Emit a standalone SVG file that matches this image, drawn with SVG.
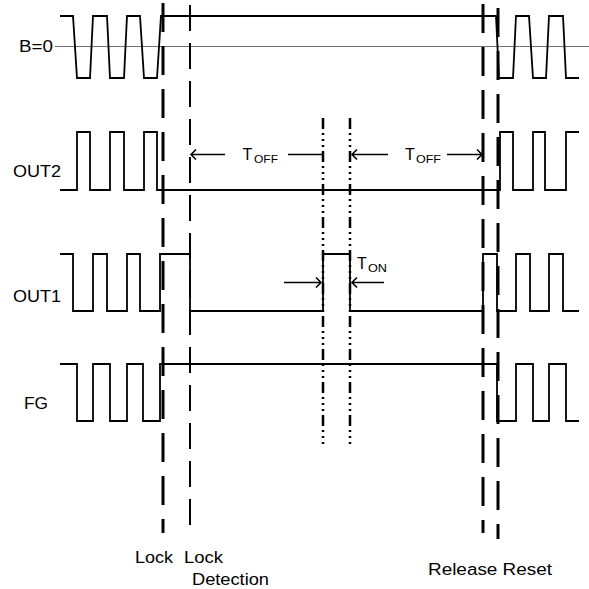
<svg xmlns="http://www.w3.org/2000/svg" width="589" height="589" viewBox="0 0 589 589">
<style>
.wave{fill:none;stroke:#000;stroke-width:1.8;stroke-linejoin:miter}
.ref{stroke:#707070;stroke-width:1.2}
.lk{fill:none;stroke:#000;stroke-width:3;stroke-dasharray:29 14}
.ld{fill:none;stroke:#000;stroke-width:2;stroke-dasharray:26 12}
.dd{fill:none;stroke:#000;stroke-width:2.5;stroke-dasharray:11 4 2 4 2 4 2 4}
.arr{fill:none;stroke:#000;stroke-width:1.6}
text{font-family:"Liberation Sans",Arial,sans-serif;font-size:16px;fill:#000}
.sub{font-size:11px}
</style>
<g id="labels">
<text x="19" y="52" textLength="34" lengthAdjust="spacingAndGlyphs">B=0</text>
<text x="13" y="177" textLength="48" lengthAdjust="spacingAndGlyphs">OUT2</text>
<text x="13" y="302" textLength="48" lengthAdjust="spacingAndGlyphs">OUT1</text>
<text x="24" y="409" textLength="24" lengthAdjust="spacingAndGlyphs">FG</text>
</g>
<g id="reference-line"><line class="ref" x1="55" y1="46.5" x2="589" y2="46.5"/></g>
<g id="signal-B0"><polyline class="wave" points="60,16 73,16 77,78 90,78 93,16 107,16 110,78 124,78 127,16 140,16 144,78 157,78 161,16 496,16 499,78 513,78 516,16 529,16 533,78 546,78 549,16 563,16 566,78 579,78"/></g>
<g id="signal-OUT2"><polyline class="wave" points="60,190 77,190 77,132 90,132 90,190 110,190 110,132 124,132 124,190 144,190 144,132 157,132 157,190 500,190 500,132 513,132 513,190 533,190 533,132 545,132 545,190 566,190 566,132 579,132"/></g>
<g id="signal-OUT1"><polyline class="wave" points="60,254 73,254 73,311 93,311 93,254 107,254 107,311 127,311 127,254 140,254 140,311 160,311 160,254 190,254 190,311 323,311 323,254 350,254 350,311 483,311 483,254 497,254 497,311 516,311 516,254 530,254 530,311 549,311 549,254 563,254 563,311 579,311"/></g>
<g id="signal-FG"><polyline class="wave" points="60,364 77,364 77,421 93,421 93,364 110,364 110,421 127,421 127,364 143,364 143,421 160,421 160,364 497,364 497,421 516,421 516,364 533,364 533,421 549,421 549,364 566,364 566,421 579,421"/></g>
<g id="markers">
<line class="lk" x1="163" y1="3" x2="163" y2="533"/>
<line class="ld" x1="190" y1="5" x2="190" y2="533"/>
<line class="lk" x1="483" y1="4" x2="483" y2="533"/>
<line class="lk" x1="498" y1="8" x2="498" y2="539"/>
<line class="dd" x1="323" y1="118" x2="323" y2="447"/>
<line class="dd" x1="350" y1="118" x2="350" y2="447"/>
</g>
<g id="toff-1">
<path class="arr" d="M225,154.5H191M196,149.5L191,154.5L196,159.5M288,154.5H323"/>
<text x="242.5" y="160">T</text><text class="sub" x="254" y="163" textLength="24" lengthAdjust="spacingAndGlyphs">OFF</text>
</g>
<g id="toff-2">
<path class="arr" d="M388,154.5H352M357,149.5L352,154.5L357,159.5M447,154.5H482M477,149.5L482,154.5L477,159.5"/>
<text x="405" y="160">T</text><text class="sub" x="416" y="163" textLength="25" lengthAdjust="spacingAndGlyphs">OFF</text>
</g>
<g id="ton">
<path class="arr" d="M284,282.5H321M316,277.5L321,282.5L316,287.5M384,282.5H352M357,277.5L352,282.5L357,287.5"/>
<text x="357" y="269">T</text><text class="sub" x="368" y="272" textLength="19" lengthAdjust="spacingAndGlyphs">ON</text>
</g>
<g id="bottom-labels">
<text x="135" y="563" textLength="38" lengthAdjust="spacingAndGlyphs">Lock</text>
<text x="184" y="563" textLength="39" lengthAdjust="spacingAndGlyphs">Lock</text>
<text x="192" y="585" textLength="77" lengthAdjust="spacingAndGlyphs">Detection</text>
<text x="428" y="575" textLength="124" lengthAdjust="spacingAndGlyphs">Release Reset</text>
</g>
</svg>
